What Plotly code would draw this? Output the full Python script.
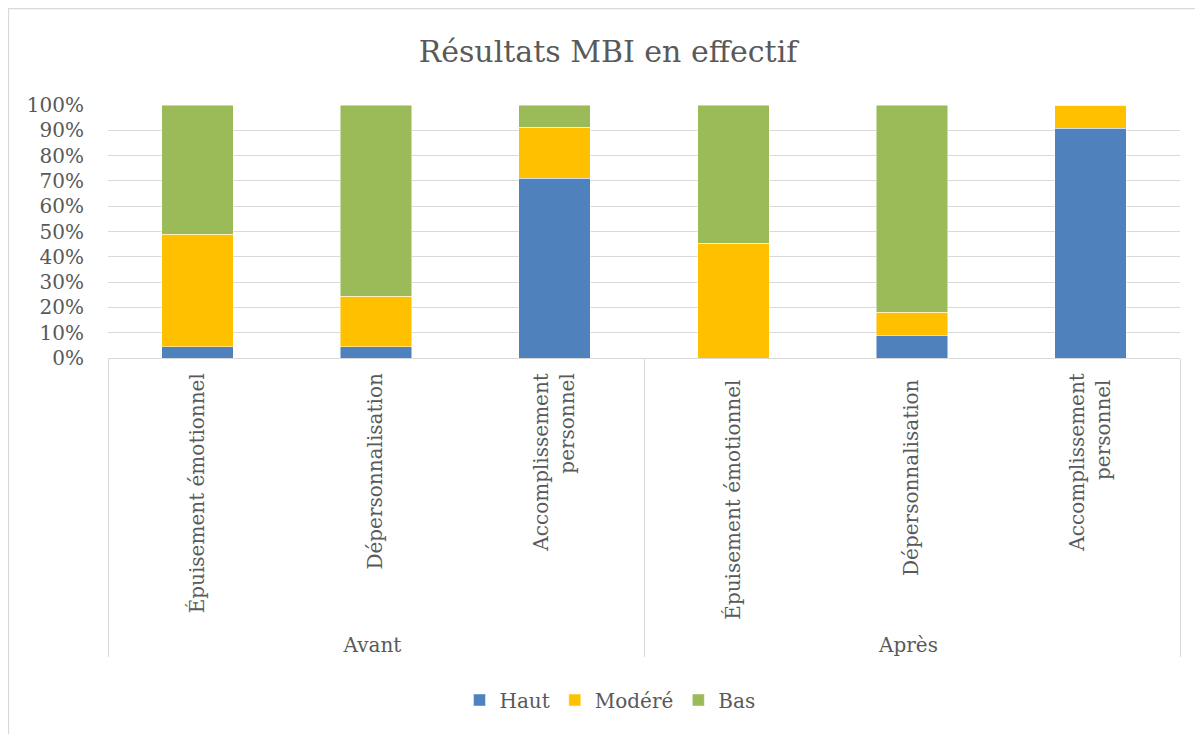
import plotly.graph_objects as go

groups = ["Avant", "Avant", "Avant", "Après", "Après", "Après"]
categories = ["Épuisement émotionnel", "Dépersonnalisation", "Accomplissement<br>personnel",
              "Épuisement émotionnel ", "Dépersonnalisation ", "Accomplissement<br>personnel "]
haut = [2, 2, 32, 0, 1, 10]
modere = [20, 9, 9, 5, 1, 1]
bas = [23, 34, 4, 6, 9, 0]
series_names = ["Haut", "Modéré", "Bas"]
colors = ["#4F81BD", "#FFC000", "#9BBB59"]
ytick_vals = [0, 10, 20, 30, 40, 50, 60, 70, 80, 90, 100]
ytick_text = [f"{v}%" for v in ytick_vals]

FONT = "DejaVu Serif"
TXT = "#595959"
GRID = "#D9D9D9"

fig = go.Figure()
for name, vals, col in zip(series_names, [haut, modere, bas], colors):
    fig.add_trace(go.Bar(
        x=[groups, categories], y=vals, name=name,
        marker=dict(color=col, line=dict(color="rgba(255,255,255,0.6)", width=0.8)),
    ))

OFF = 8  # page body margin
W, H = 1195, 726
ml = 108 - OFF
mt = 105 - OFF
mr = W - (1180 - OFF)
mb = H - (358 - OFF)
pw = W - ml - mr
ph = H - mt - mb

def px_x(p):
    return (p - OFF - ml) / pw

def px_y(p):
    return (H - mb - (p - OFF)) / ph

fig.update_layout(
    width=W, height=H,
    barmode="stack", barnorm="percent", bargap=0.6,
    margin=dict(l=ml, r=mr, t=mt, b=mb),
    paper_bgcolor="white", plot_bgcolor="white",
    font=dict(family=FONT, color=TXT, size=20),
    title=dict(text="Résultats MBI en effectif", x=(608 - OFF) / W, xanchor="center",
               y=1 - (51 - OFF) / H, yanchor="middle",
               font=dict(family=FONT, size=30, color=TXT)),
    legend=dict(orientation="h", x=(610 - OFF) / W, xref="container", xanchor="center",
                y=1 - (700 - OFF) / H, yref="container", yanchor="middle",
                font=dict(family=FONT, size=20, color=TXT),
                traceorder="normal", itemwidth=30),
    showlegend=True,
    xaxis=dict(type="multicategory", tickangle=-90, showgrid=False,
               showline=True, linecolor=GRID, linewidth=1.3,
               showdividers=True, dividercolor=GRID, dividerwidth=1.3,
               tickfont=dict(family=FONT, size=20, color=TXT),
               ticks="", ticklabelstandoff=6),
    yaxis=dict(range=[0, 100], tickvals=ytick_vals, ticktext=ytick_text,
               showgrid=True, gridcolor=GRID, gridwidth=1.3,
               zeroline=False, showline=False, ticks="",
               tickfont=dict(family=FONT, size=20, color=TXT),
               ticklabelstandoff=23),
    shapes=[
        dict(type="line", xref="paper", yref="paper",
             x0=px_x(8.5), x1=px_x(8.5), y0=px_y(8), y1=px_y(760),
             line=dict(color=GRID, width=1.3)),
        dict(type="line", xref="paper", yref="paper",
             x0=px_x(8), x1=px_x(1220), y0=px_y(8.5), y1=px_y(8.5),
             line=dict(color=GRID, width=1.3)),
    ],
)

fig.write_html("out.html", config={"displayModeBar": False})
